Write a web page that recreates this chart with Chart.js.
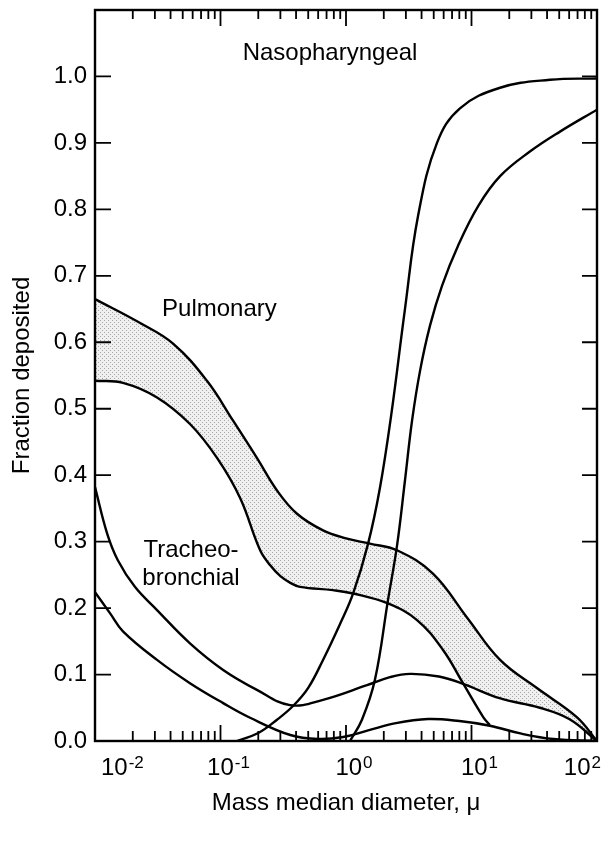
<!DOCTYPE html>
<html><head><meta charset="utf-8">
<script src="https://cdn.jsdelivr.net/npm/chart.js@4.4.1/dist/chart.umd.min.js"></script>
<style>html,body{margin:0;padding:0;background:#fff;}#wrap{width:602px;height:846px;position:relative;}</style>
</head><body><div id="wrap"><canvas id="c"></canvas></div>
<script>
// ---- data (x = mass median diameter in microns, y = fraction deposited) ----
const pulmUpperX = [0.01, 0.0229, 0.0419, 0.078, 0.126, 0.195, 0.282, 0.407, 0.656, 1.0, 1.55, 2.55, 4.93, 9.2, 16.9, 33, 69, 100];
const pulmUpperY = [0.665, 0.629, 0.598, 0.542, 0.482, 0.426, 0.377, 0.342, 0.317, 0.305, 0.297, 0.287, 0.252, 0.186, 0.122, 0.08, 0.036, 0];
const pulmLowerX = [0.01, 0.0167, 0.0312, 0.0571, 0.0938, 0.143, 0.207, 0.25, 0.3, 0.36, 0.43, 0.787, 1.14, 2.16, 3.68, 5.93, 8.55, 12.4, 14];
const pulmLowerY = [0.542, 0.539, 0.517, 0.477, 0.426, 0.366, 0.287, 0.264, 0.248, 0.238, 0.232, 0.227, 0.222, 0.207, 0.182, 0.137, 0.087, 0.036, 0.024];
const tbUpperX = [0.01, 0.0125, 0.0152, 0.0208, 0.0312, 0.0571, 0.105, 0.195, 0.358, 0.656, 1.47, 2.24, 3.24, 5.5, 8.55, 17, 35, 60, 100];
const tbUpperY = [0.382, 0.312, 0.272, 0.232, 0.197, 0.147, 0.107, 0.077, 0.054, 0.062, 0.084, 0.096, 0.101, 0.097, 0.086, 0.064, 0.05, 0.033, 0];
const tbLowerX = [0.01, 0.0132, 0.0167, 0.0312, 0.0571, 0.105, 0.172, 0.36, 0.6, 0.95, 1.5, 2.5, 4.5, 8, 14, 25, 45, 100];
const tbLowerY = [0.224, 0.192, 0.165, 0.122, 0.087, 0.057, 0.035, 0.009, 0.003, 0.006, 0.016, 0.027, 0.033, 0.030, 0.023, 0.011, 0.003, 0];
const nasoAX = [0.135, 0.2, 0.282, 0.38, 0.5, 0.656, 0.891, 1.14, 1.5, 1.86, 2.29, 2.95, 3.75, 5.31, 8.09, 16.9, 42.2, 100];
const nasoAY = [0, 0.012, 0.032, 0.053, 0.08, 0.122, 0.175, 0.222, 0.297, 0.38, 0.49, 0.65, 0.79, 0.9, 0.952, 0.983, 0.995, 0.997];
const nasoBX = [1.076, 1.34, 1.7, 2.16, 2.55, 2.95, 3.36, 3.89, 4.67, 5.82, 7.8, 11.3, 16.9, 29.2, 50.7, 100];
const nasoBY = [0, 0.032, 0.092, 0.212, 0.294, 0.392, 0.482, 0.557, 0.625, 0.685, 0.745, 0.805, 0.85, 0.887, 0.917, 0.95];

const xTickValues = [0.01, 0.1, 1, 10, 100];
const xTickExponents = ['-2', '-1', '0', '1', '2'];
const yTickValues = [0, 0.1, 0.2, 0.3, 0.4, 0.5, 0.6, 0.7, 0.8, 0.9, 1.0];
const yTickLabels = ['0.0', '0.1', '0.2', '0.3', '0.4', '0.5', '0.6', '0.7', '0.8', '0.9', '1.0'];
const xTitle = 'Mass median diameter, \u03BC';
const yTitle = 'Fraction deposited';
const regionLabels = [
  {lines: ['Nasopharyngeal'], x: 0.746, y: 1.035},
  {lines: ['Pulmonary'], x: 0.098, y: 0.649},
  {lines: ['Tracheo-', 'bronchial'], x: 0.0582, y: 0.287}
];

const FONT = "'Liberation Sans', Arial, Helvetica, sans-serif";
const FS = 24;

function pts(xs, ys) { return xs.map((x, i) => ({x: x, y: ys[i]})); }

// stipple pattern for the pulmonary band
const pc = document.createElement('canvas');
pc.width = 4; pc.height = 4;
const pctx = pc.getContext('2d');
pctx.fillStyle = '#f0f0f0'; pctx.fillRect(0, 0, 4, 4);
pctx.fillStyle = '#a6a6a6'; pctx.fillRect(0, 0, 1, 1); pctx.fillRect(2, 2, 1, 1);
const shade = pctx.createPattern(pc, 'repeat');

const decor = {
  id: 'decor',
  afterDatasetsDraw(chart) {
    const {ctx, chartArea: a, scales} = chart;
    const xs = scales.x, ys = scales.y;
    ctx.save();
    ctx.strokeStyle = '#000';
    ctx.lineWidth = 2.4;
    ctx.strokeRect(a.left, a.top, a.right - a.left, a.bottom - a.top);
    ctx.lineWidth = 1.8;
    ctx.beginPath();
    yTickValues.forEach(v => {
      const p = ys.getPixelForValue(v);
      ctx.moveTo(a.left, p); ctx.lineTo(a.left + 16, p);
      ctx.moveTo(a.right, p); ctx.lineTo(a.right - 15, p);
    });
    for (let d = 0; d < xTickValues.length; d++) {
      const base = xTickValues[d];
      const p = xs.getPixelForValue(base);
      ctx.moveTo(p, a.top); ctx.lineTo(p, a.top + 16);
      ctx.moveTo(p, a.bottom); ctx.lineTo(p, a.bottom - 16);
      if (d < xTickValues.length - 1) {
        for (let m = 2; m <= 9; m++) {
          const q = xs.getPixelForValue(base * m);
          ctx.moveTo(q, a.top); ctx.lineTo(q, a.top + 9);
          ctx.moveTo(q, a.bottom); ctx.lineTo(q, a.bottom - 10);
        }
      }
    }
    ctx.stroke();

    // x tick labels with superscript exponents
    ctx.fillStyle = '#000';
    ctx.textBaseline = 'alphabetic';
    ctx.textAlign = 'left';
    const W = chart.width;
    xTickValues.forEach((v, i) => {
      const p = xs.getPixelForValue(v);
      ctx.font = FS + 'px ' + FONT;
      const wb = ctx.measureText('10').width;
      ctx.font = '17px ' + FONT;
      const we = ctx.measureText(xTickExponents[i]).width;
      const tot = wb + we + 1;
      let left;
      if (i === 0) left = p + 6;
      else if (i === xTickValues.length - 1) left = Math.min(p + 4, W - 1) - tot;
      else left = p + 8 - tot / 2;
      ctx.font = FS + 'px ' + FONT;
      ctx.fillText('10', left, a.bottom + 34);
      ctx.font = '17px ' + FONT;
      ctx.fillText(xTickExponents[i], left + wb + 1, a.bottom + 27);
    });

    // region labels
    ctx.font = FS + 'px ' + FONT;
    ctx.textAlign = 'center';
    ctx.textBaseline = 'middle';
    regionLabels.forEach(l => {
      const cx = xs.getPixelForValue(l.x);
      const cy = ys.getPixelForValue(l.y);
      l.lines.forEach((t, k) => ctx.fillText(t, cx, cy + k * 28));
    });
    ctx.restore();
  }
};

const lineStyle = {borderColor: '#000', borderWidth: 2.4, pointRadius: 0, tension: 0.4};

new Chart(document.getElementById('c'), {
  type: 'line',
  data: {
    datasets: [
      Object.assign({label: 'Pulmonary (lower bound)', data: pts(pulmLowerX, pulmLowerY), fill: {target: 2, above: '#ffffff', below: 'rgba(0,0,0,0)'}}, lineStyle),
      Object.assign({label: 'Pulmonary (upper bound)', data: pts(pulmUpperX, pulmUpperY), fill: {target: 2, above: shade, below: 'rgba(0,0,0,0)'}}, lineStyle),
      Object.assign({label: 'Tracheobronchial (upper)', data: pts(tbUpperX, tbUpperY), fill: false}, lineStyle),
      Object.assign({label: 'Tracheobronchial (lower)', data: pts(tbLowerX, tbLowerY), fill: false}, lineStyle),
      Object.assign({label: 'Nasopharyngeal (upper)', data: pts(nasoAX, nasoAY), fill: false}, lineStyle),
      Object.assign({label: 'Nasopharyngeal (lower)', data: pts(nasoBX, nasoBY), fill: false}, lineStyle)
    ]
  },
  options: {
    responsive: true,
    maintainAspectRatio: false,
    animation: false,
    devicePixelRatio: 1,
    layout: {padding: {top: 10, right: 5, left: 0, bottom: 0}},
    plugins: {legend: {display: false}, tooltip: {enabled: false}, filler: {drawTime: 'beforeDatasetsDraw'}},
    scales: {
      x: {
        type: 'logarithmic', min: 0.01, max: 100,
        grid: {display: false, drawTicks: false}, border: {display: false},
        ticks: {display: false},
        title: {display: true, text: xTitle, color: '#000', font: {family: FONT, size: FS}, padding: {top: 0, bottom: 28}},
        afterFit(s) { s.height = 105; s.paddingLeft = 0; s.paddingRight = 0; }
      },
      y: {
        type: 'linear', min: 0, max: 1.1,
        grid: {display: false, drawTicks: false}, border: {display: false},
        afterBuildTicks(s) { s.ticks = yTickValues.map(v => ({value: v})); },
        ticks: {color: '#000', font: {family: FONT, size: FS}, padding: 8, autoSkip: false, callback: (v, i) => yTickLabels[i]},
        title: {display: true, text: yTitle, color: '#000', font: {family: FONT, size: FS}, padding: {top: 8, bottom: 0}},
        afterFit(s) { s.width = 95; s.paddingTop = 0; s.paddingBottom = 0; }
      }
    }
  },
  plugins: [decor]
});
</script>
</body></html>
